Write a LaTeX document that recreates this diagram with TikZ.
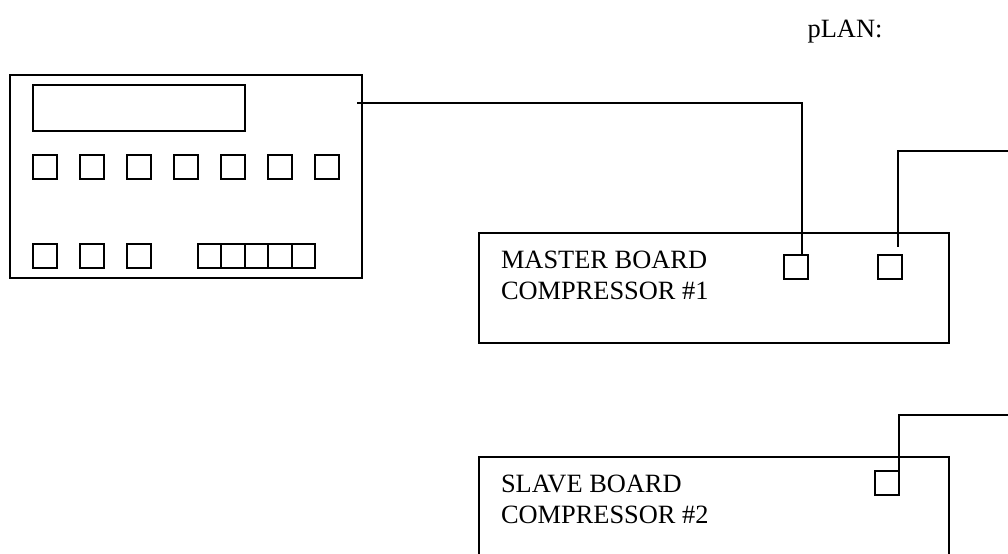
\documentclass[tikz,border=0pt]{standalone}
\usepackage{fontspec}
\setmainfont{Liberation Serif}
\usetikzlibrary{positioning}

\begin{document}
\begin{tikzpicture}[
	    x=0.5pt, y=-0.5pt,
	    every node/.style={inner sep=0pt, outer sep=0pt},
	    panel/.style={draw, line width=1pt},
	    key/.style={draw, line width=1pt, minimum size=12pt},
	    cable/.style={line width=1pt},
	    boardtext/.style={align=left, anchor=base west, font=\fontsize{13.2}{15.5}\selectfont}
	]
		\useasboundingbox (0,0) rectangle (1008,553);
		\clip (0,0) rectangle (1008,553);

		% controller
		\node[panel, minimum width=176pt, minimum height=101.5pt] (ctrl) at (186,176.5) {};
		\node[panel, minimum width=106pt, minimum height=23pt] (disp) at (139,108) {};
		\foreach \i in {0,...,6}
			\node[key] (k\i) at (45+47*\i,166.5) {};
		\foreach \i in {0,1,2}
			\node[key] (b\i) at (45+47*\i,256) {};
		\foreach \i in {0,...,4}
			\node[key, minimum width=11.7pt] (g\i) at (209.7+23.4*\i,256) {};

		% boards
		\node[panel, minimum width=235pt, minimum height=55pt] (master) at (714,288) {};
		\node[panel, minimum width=235pt, minimum height=55pt] (slave) at (714,512) {};
		\node[key] (mk1) at (796,267) {};
		\node[key] (mk2) at (890,267) {};
		\node[key] (sk1) at (887,483) {};

		% base anchor sits on the last line
		\node[boardtext] (mtext) at (501,299) {MASTER BOARD\\COMPRESSOR \#1};
		\node[boardtext] (stext) at (501,523) {SLAVE BOARD\\COMPRESSOR \#2};
		\node[anchor=base, font=\fontsize{13.2}{15.5}\selectfont] (plan) at (845,37) {pLAN:};

		% cables
		\coordinate (ctrlport) at (357,103);
		\coordinate (lanA) at (1008,151);
		\coordinate (lanB) at (1008,415);

		\draw[cable] (ctrlport) -| ([xshift=3pt]mk1.north);
		\draw[cable] (lanA) -| ([xshift=4pt, yshift=4pt]mk2.north);
		\draw[cable] (lanB) -| (sk1.south east);
	\end{tikzpicture}
\end{document}
